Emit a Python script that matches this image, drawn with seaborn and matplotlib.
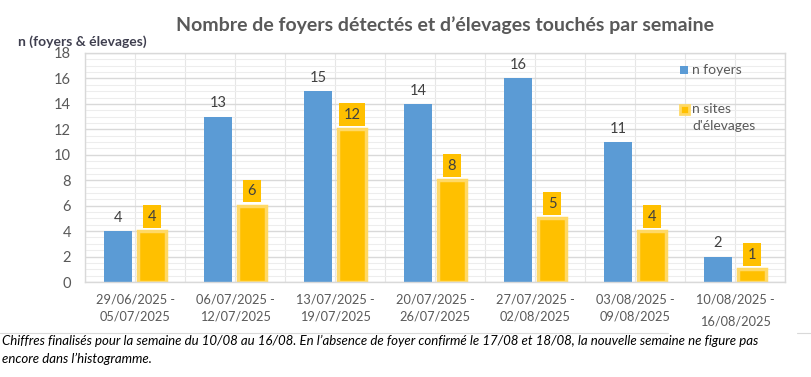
import matplotlib
matplotlib.use("Agg")
import matplotlib.pyplot as plt
import seaborn as sns
import pandas as pd
import numpy as np
from matplotlib.patches import Rectangle
from matplotlib.lines import Line2D
from matplotlib.ticker import MultipleLocator

weeks = ["29/06/2025 -\n05/07/2025", "06/07/2025 -\n12/07/2025", "13/07/2025 -\n19/07/2025",
         "20/07/2025 -\n26/07/2025", "27/07/2025 -\n02/08/2025", "03/08/2025 -\n09/08/2025",
         "10/08/2025 -\n16/08/2025"]
foyers = [4, 13, 15, 14, 16, 11, 2]
sites = [4, 6, 12, 8, 5, 4, 1]
series = ["n foyers", "n sites d'élevages"]
legend_labels = ["n foyers", "n sites", "d'élevages"]
title = "Nombre de foyers détectés et d\u2019élevages touchés par semaine"
ylabel = "n (foyers & élevages)"
note1 = "Chiffres finalisés pour la semaine du 10/08 au 16/08. En l\u2019absence de foyer confirmé le 17/08 et 18/08, la nouvelle semaine ne figure pas"
note2 = "encore dans l\u2019histogramme."

BLUE = "#5B9BD5"
GOLD = "#FFC000"
GOLD_EDGE = "#FFD966"
TXT = "#595959"

df = pd.DataFrame({"semaine": weeks * 2, "n": foyers + sites,
                   "serie": [series[0]] * len(weeks) + [series[1]] * len(weeks)})

sns.set_theme(style="white")
plt.rcParams["font.family"] = ["Lato", "DejaVu Sans"]

fig = plt.figure(figsize=(8.11, 3.77), dpi=100)
ax = fig.add_axes([85 / 811, 1 - 282 / 377, 700 / 811, 229 / 377])

sns.barplot(data=df, x="semaine", y="n", hue="serie", hue_order=series,
            palette=[BLUE, GOLD], width=0.68, gap=0.2, saturation=1,
            legend=False, ax=ax, errorbar=None)

for p in ax.patches:
    h = p.get_height()
    cx = p.get_x() + p.get_width() / 2
    fc = p.get_facecolor()
    is_blue = fc[2] > 0.6
    if is_blue:
        p.set_linewidth(0)
        ax.annotate(f"{int(round(h))}", (cx, h), xytext=(0, 9.5), textcoords="offset points",
                    ha="center", va="center", fontsize=10.5, color="#404040")
    else:
        p.set_edgecolor(GOLD_EDGE)
        p.set_linewidth(2.5)
        ax.annotate(f"{int(round(h))}", (cx, h), xytext=(0, 10.5), textcoords="offset points",
                    ha="center", va="center", fontsize=10.5, color="#404040",
                    bbox=dict(boxstyle="square,pad=0.3", fc=GOLD, ec="none"))

ax.set_xlim(-0.5, 6.5)
ax.set_ylim(0, 18)
ax.yaxis.set_major_locator(MultipleLocator(2))
ax.yaxis.set_minor_locator(MultipleLocator(0.5))
ax.xaxis.set_minor_locator(MultipleLocator(0.5))
ax.set_axisbelow(True)
ax.grid(axis="y", which="major", color="#d9d9d9", linewidth=1)
ax.grid(axis="y", which="minor", color="#ededed", linewidth=0.8)
ax.grid(axis="x", which="both", color="#e6e6e6", linewidth=0.8)
ax.tick_params(axis="both", which="both", length=0)
ax.tick_params(axis="y", labelsize=10.5, labelcolor=TXT, pad=10)
ax.tick_params(axis="x", labelsize=9.2, labelcolor=TXT, pad=8)
ax.set_xlabel("")
ax.set_ylabel("")
for s in ax.spines.values():
    s.set_color("#d9d9d9")
    s.set_linewidth(1)
for lab in ax.get_xticklabels():
    lab.set_linespacing(1.5)
ax.get_xticklabels()[-1].set_linespacing(2.0)

# legend
ax.add_patch(Rectangle((680 / 811, 1 - 74 / 377), 8 / 811, 8 / 377, transform=fig.transFigure,
                       fc=BLUE, ec="none", clip_on=False))
fig.text(692 / 811, 1 - 70 / 377, legend_labels[0], ha="left", va="center", fontsize=10, color=TXT)
ax.add_patch(Rectangle((680 / 811, 1 - 114 / 377), 9 / 811, 9 / 377, transform=fig.transFigure,
                       fc=GOLD, ec=GOLD_EDGE, lw=2, clip_on=False))
fig.text(692 / 811, 1 - 109 / 377, legend_labels[1], ha="left", va="center", fontsize=10, color=TXT)
fig.text(692 / 811, 1 - 126 / 377, legend_labels[2], ha="left", va="center", fontsize=10, color=TXT)

fig.text(445 / 811, 1 - 25 / 377, title, ha="center", va="center", fontsize=14,
         fontweight="bold", color=TXT)
fig.text(18 / 811, 1 - 42 / 377, ylabel, ha="left", va="center", fontsize=10,
         fontweight="bold", color="#3f3f4f")

fig.add_artist(Line2D([0, 668 / 811], [1 - 333 / 377] * 2, transform=fig.transFigure,
                      color="#d9d9d9", lw=0.8))
fig.add_artist(Line2D([797 / 811, 1], [1 - 333 / 377] * 2, transform=fig.transFigure,
                      color="#d9d9d9", lw=0.8))
fig.text(2 / 811, 1 - 341 / 377, note1, ha="left", va="center", fontsize=9.5, style="italic", color="black")
fig.text(2 / 811, 1 - 359 / 377, note2, ha="left", va="center", fontsize=9.5, style="italic", color="black")

fig.savefig("out.png", dpi=100, facecolor="white")
